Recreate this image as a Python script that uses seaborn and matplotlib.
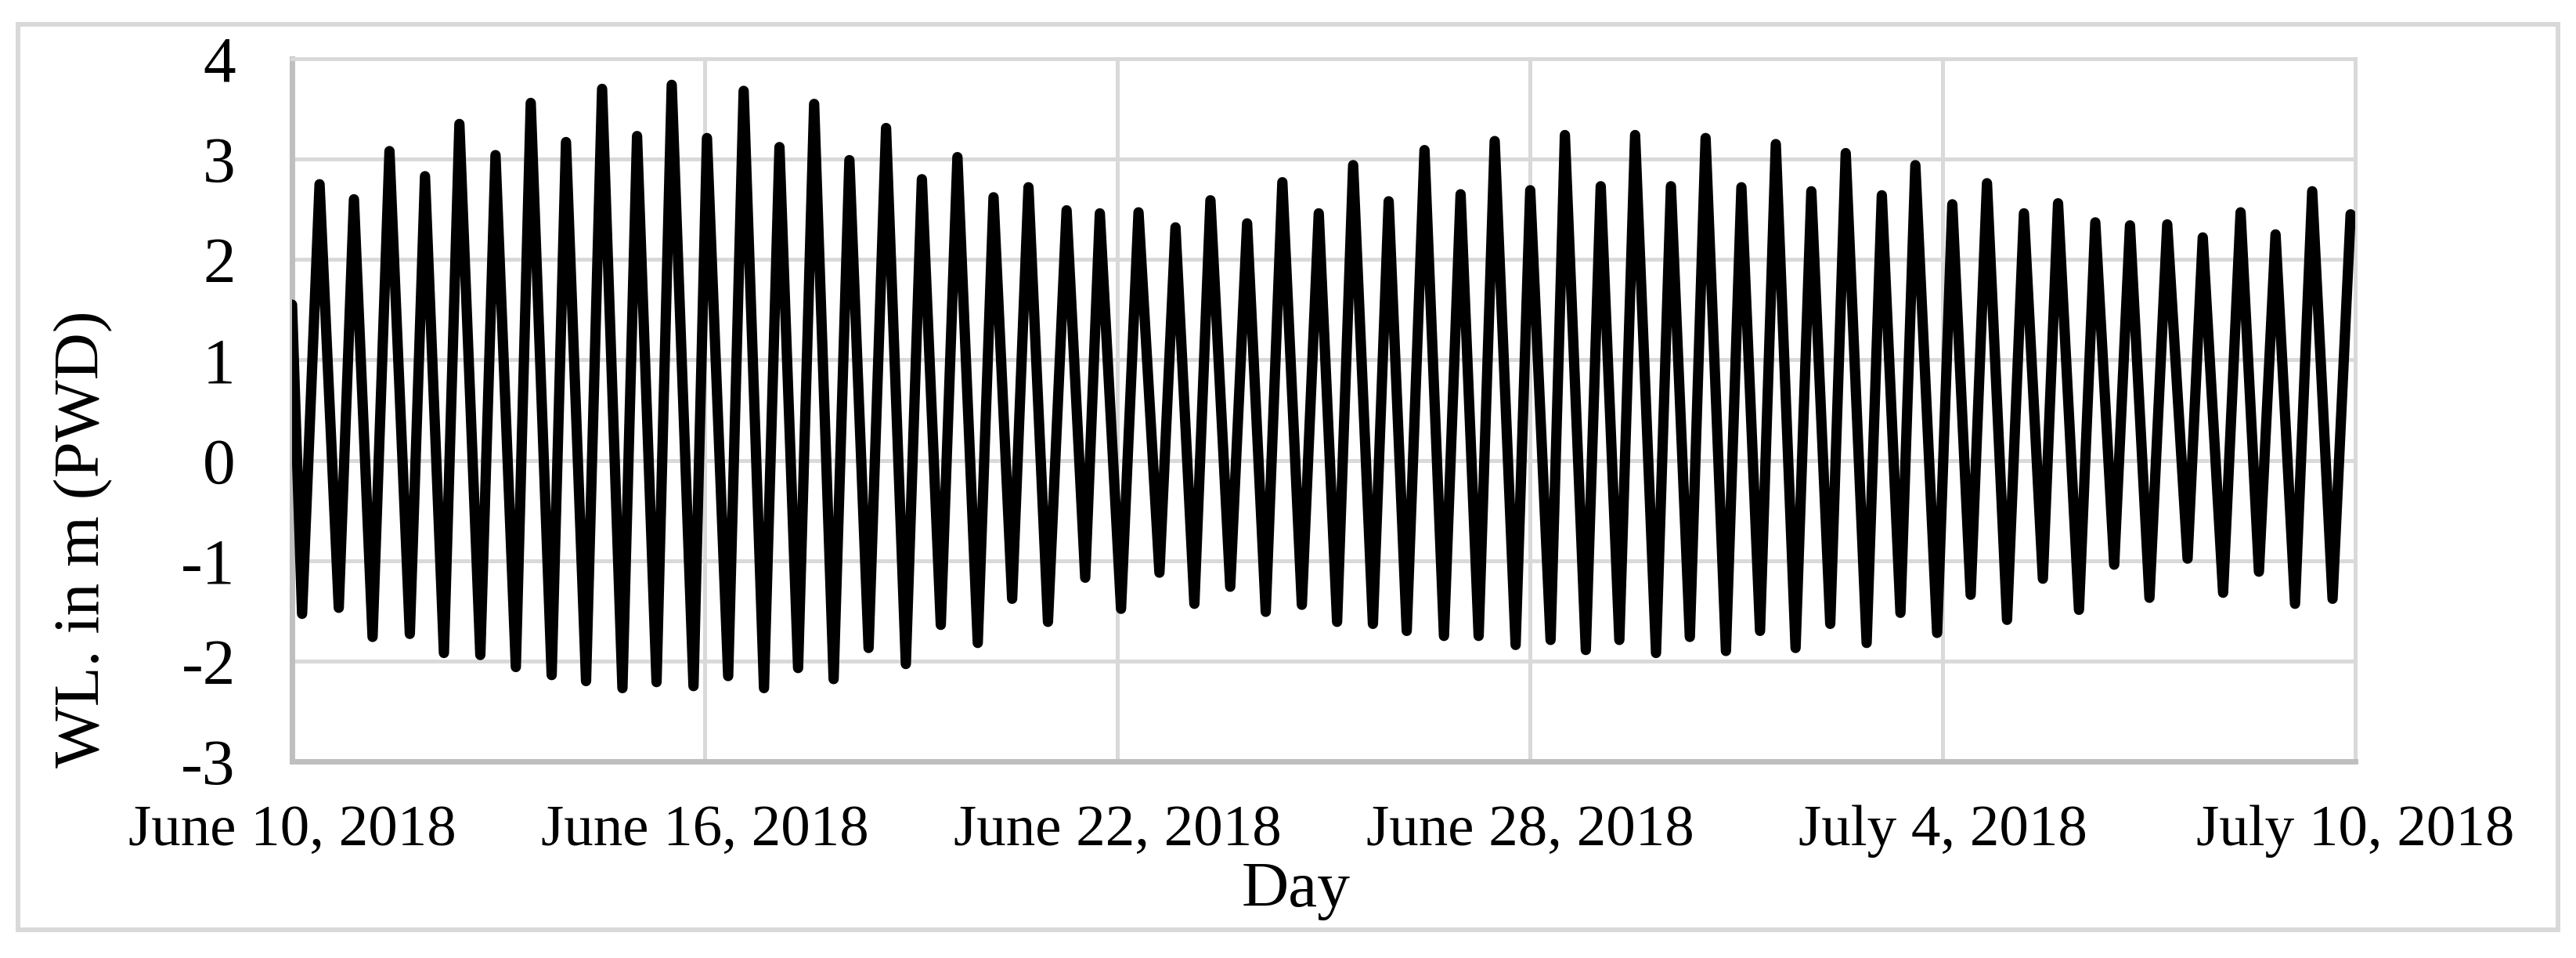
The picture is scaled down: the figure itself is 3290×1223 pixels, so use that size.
import numpy as np
import pandas as pd
import seaborn as sns
import matplotlib.pyplot as plt
from matplotlib.patches import Rectangle

# high / low water times (hours after 2018-06-10 00:00) and levels (m, PWD)
hours = [0.0, 3.5, 9.6, 16.3, 21.6, 28.1, 34.0, 41.1, 46.4, 53.0, 58.4, 65.7,
         71.0, 78.1, 83.3, 90.6, 95.6, 102.6, 108.2, 115.3, 120.4, 127.2, 132.5, 140.1,
         144.8, 152.2, 157.6, 164.7, 170.1, 176.6, 182.2, 189.0, 194.5, 201.2, 207.3, 214.2,
         219.8, 226.4, 232.2, 239.3, 244.8, 251.3, 257.0, 263.8, 270.3, 276.8, 281.9, 289.3,
         295.4, 302.7, 308.3, 314.9, 320.5, 327.4, 333.3, 339.8, 345.6, 352.4, 358.3, 364.7,
         370.3, 377.2, 382.7, 389.0, 395.2, 402.0, 407.8, 414.1, 419.7, 427.0, 432.1, 439.2,
         444.2, 451.5, 456.7, 463.2, 468.7, 476.0, 481.2, 487.8, 493.3, 500.4, 505.8, 512.3,
         517.8, 524.7, 530.2, 536.8, 542.2, 549.5, 554.8, 561.3, 566.5, 574.1, 579.4, 585.8,
         591.5, 598.5, 604.4, 611.0, 616.3, 623.6, 629.3, 635.9, 641.4, 648.2, 654.4, 661.5,
         666.8, 673.9, 680.0, 686.4, 692.2, 699.0, 705.0, 712.1, 718.4]
levels = [1.55, -1.53, 2.75, -1.47, 2.60, -1.76, 3.08, -1.73, 2.83, -1.92, 3.35, -1.94,
          3.04, -2.06, 3.56, -2.14, 3.17, -2.20, 3.70, -2.27, 3.23, -2.21, 3.74, -2.25,
          3.21, -2.15, 3.68, -2.27, 3.12, -2.07, 3.55, -2.18, 2.99, -1.87, 3.31, -2.03,
          2.80, -1.64, 3.02, -1.82, 2.62, -1.38, 2.72, -1.61, 2.49, -1.17, 2.46, -1.48,
          2.47, -1.12, 2.32, -1.43, 2.59, -1.26, 2.36, -1.51, 2.77, -1.44, 2.46, -1.61,
          2.94, -1.63, 2.58, -1.70, 3.09, -1.75, 2.65, -1.75, 3.18, -1.84, 2.69, -1.79,
          3.24, -1.89, 2.73, -1.79, 3.24, -1.92, 2.73, -1.76, 3.21, -1.90, 2.72, -1.70,
          3.15, -1.87, 2.68, -1.63, 3.06, -1.82, 2.64, -1.52, 2.94, -1.72, 2.55, -1.34,
          2.76, -1.59, 2.46, -1.18, 2.56, -1.49, 2.37, -1.04, 2.34, -1.37, 2.35, -0.98,
          2.22, -1.32, 2.47, -1.11, 2.25, -1.43, 2.68, -1.38, 2.45]

tick_dates = ['2018-06-10', '2018-06-16', '2018-06-22', '2018-06-28', '2018-07-04', '2018-07-10']
tick_labels = ['June 10, 2018', 'June 16, 2018', 'June 22, 2018',
               'June 28, 2018', 'July 4, 2018', 'July 10, 2018']
y_ticks = [-3, -2, -1, 0, 1, 2, 3, 4]

sns.set_style('white')
plt.rcParams['font.family'] = ['Liberation Serif', 'DejaVu Serif']
plt.rcParams['text.color'] = 'black'
plt.rcParams['xtick.color'] = 'black'
plt.rcParams['ytick.color'] = 'black'

W, H = 3291, 1223
fig = plt.figure(figsize=(W / 100, H / 100), dpi=100)
ax = fig.add_axes([373 / W, 1 - 972 / H, (3008 - 373) / W, (972 - 75) / H])

df = pd.DataFrame({
    'time': pd.Timestamp('2018-06-10') + pd.to_timedelta(hours, unit='h'),
    'wl': levels,
})
sns.lineplot(data=df, x='time', y='wl', ax=ax, color='black', linewidth=9.5,
             estimator=None, sort=False, solid_joinstyle='round', zorder=3)

ax.set_xlim(pd.Timestamp('2018-06-10'), pd.Timestamp('2018-07-10'))
ax.set_ylim(-3, 4)
ax.set_xticks(pd.to_datetime(tick_dates))
ax.set_xticklabels(tick_labels, fontsize=54)
ax.set_yticks(y_ticks)
ax.set_yticklabels([str(v) for v in y_ticks], fontsize=60)
ax.tick_params(axis='both', length=0, labelcolor='black')
ax.tick_params(axis='x', pad=40)
ax.tick_params(axis='y', pad=52)
ax.set_xlabel('')
ax.set_ylabel('')

ax.grid(True, color='#d9d9d9', linewidth=3.6, zorder=0)
ax.set_axisbelow(True)
for side in ['left', 'bottom']:
    ax.spines[side].set_color('#bfbfbf')
    ax.spines[side].set_linewidth(5)
for side in ['top', 'right']:
    ax.spines[side].set_color('#d9d9d9')
    ax.spines[side].set_linewidth(3.6)

fig.text(107 / W, 1 - 688 / H, 'WL. in m (PWD)', rotation=90,
         ha='center', va='center', fontsize=60, color='black')
fig.text(1655 / W, 1 - 1157 / H, 'Day', ha='center', va='baseline',
         fontsize=60, color='black')

fig.patches.append(Rectangle((23 / W, 1 - 1187 / H), (3267 - 23) / W, (1187 - 31) / H,
                             transform=fig.transFigure, fill=False,
                             edgecolor='#d9d9d9', linewidth=4.3))

fig.savefig('out.png', dpi=100, facecolor='white')
